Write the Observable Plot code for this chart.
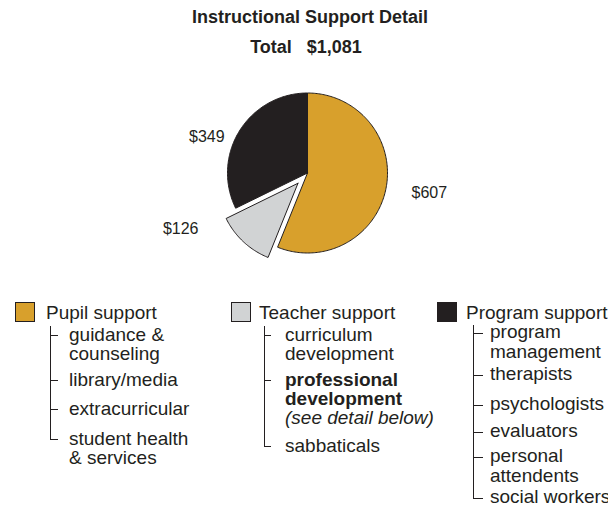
<!DOCTYPE html>
<html><head><meta charset="utf-8">
<script src="https://cdn.jsdelivr.net/npm/d3@7"></script>
<script src="https://cdn.jsdelivr.net/npm/@observablehq/plot@0.6"></script>
<style>
body{margin:0;background:#fff;}
#wrap{position:relative;width:608px;height:516px;overflow:hidden;font-family:"Liberation Sans",Arial,sans-serif;color:#231f20;}
.t{position:absolute;width:608px;text-align:center;font-weight:bold;font-size:18px;line-height:18px;white-space:pre;}
#chart{position:absolute;left:0;top:62px;}
.sw{position:absolute;width:20px;height:20px;border:1px solid #231f20;box-sizing:border-box;}
.hd{position:absolute;font-size:19px;line-height:19px;white-space:nowrap;}
.col{position:absolute;}
.item{position:relative;font-size:19px;white-space:nowrap;}
.vl{position:absolute;width:1px;background:#231f20;}
.tk{position:absolute;height:1px;background:#231f20;}
</style></head>
<body><div id="wrap">
<div class="t" id="title" style="left:6px;top:8px;"></div>
<div class="t" id="total" style="left:2px;top:38px;"></div>
<div id="chart"></div>
<div id="legend"></div>
</div>
<script>
const title = "Instructional Support Detail";
const totalLabel = "Total   $1,081";
const categories = ["Pupil support", "Teacher support", "Program support"];
const values = [607, 126, 349];
const valueLabels = ["$607", "$126", "$349"];
const colors = ["#d8a02c", "#d1d3d4", "#231f20"];
const exploded = ["Teacher support"];
const subItems = [
  [["guidance &", "counseling"], ["library/media"], ["extracurricular"], ["student health", "& services"]],
  [["curriculum", "development"], ["professional", "development", "(see detail below)"], ["sabbaticals"]],
  [["program", "management"], ["therapists"], ["psychologists"], ["evaluators"], ["personal", "attendents"], ["social workers"]]
];
// style of lines in highlighted item: column 1, item 1
const highlight = {col: 1, item: 1, styles: ["bold", "bold", "italic"]};

document.getElementById("title").textContent = title;
document.getElementById("total").textContent = totalLabel;

// pie geometry
const R = 80, explode = 14;
const arcs = d3.pie().sort(null)(values);
const step = Math.PI / 180;
const slicePts = [];
const labelPts = [];
arcs.forEach((a, i) => {
  const name = categories[i];
  const mid = (a.startAngle + a.endAngle) / 2;
  const off = exploded.includes(name) ? explode : 0;
  const ox = off * Math.sin(mid), oy = off * Math.cos(mid);
  slicePts.push({name, x: ox, y: oy});
  const n = Math.max(2, Math.ceil((a.endAngle - a.startAngle) / step));
  for (let k = 0; k <= n; k++) {
    const t = a.startAngle + (a.endAngle - a.startAngle) * k / n;
    slicePts.push({name, x: ox + R * Math.sin(t), y: oy + R * Math.cos(t)});
  }
  slicePts.push({name, x: ox, y: oy});
  labelPts.push({name, label: valueLabels[i], x: (R + off) * Math.sin(mid), y: (R + off) * Math.cos(mid)});
});
const labelStyle = {
  "Pupil support": {dx: 25.5, dy: 5, textAnchor: "start"},
  "Teacher support": {dx: -45, dy: -13, textAnchor: "end"},
  "Program support": {dx: -15, dy: 6, textAnchor: "end"}
};

const chart = Plot.plot({
  width: 608, height: 220, margin: 0,
  x: {domain: [-307, 301], axis: null},
  y: {domain: [-109.5, 110.5], axis: null},
  color: {domain: categories, range: colors},
  style: {fontFamily: "Liberation Sans, Arial, sans-serif", background: "transparent", color: "#231f20"},
  marks: [
    Plot.line(slicePts, {x: "x", y: "y", z: "name", fill: "name", stroke: "#231f20", strokeWidth: 1, strokeLinejoin: "miter"}),
    ...categories.map(c => Plot.text(labelPts.filter(d => d.name === c), {
      x: "x", y: "y", text: "label", fontSize: 16, fill: "#231f20", ...labelStyle[c]
    }))
  ]
});
document.getElementById("chart").appendChild(chart);

// legend layout
const colLayout = [
  {swX: 15, textX: 46, lineX: 50, tickEnd: 58, itemX: 69, top: 325, lineTop: 326, lh: 19, gaps: [7, 10, 11]},
  {swX: 231, textX: 259, lineX: 264, tickEnd: 271, itemX: 285, top: 325, lineTop: 326, lh: 19, gaps: [7, 9]},
  {swX: 437, textX: 466, lineX: 473, tickEnd: 483, itemX: 490, top: 322.4, lineTop: 325, lh: 20, gaps: [2, 10, 7, 5, 1]}
];
const legend = document.getElementById("legend");
categories.forEach((c, ci) => {
  const L = colLayout[ci];
  const sw = document.createElement("div");
  sw.className = "sw"; sw.style.left = L.swX + "px"; sw.style.top = "302px"; sw.style.background = colors[ci];
  legend.appendChild(sw);
  const hd = document.createElement("div");
  hd.className = "hd"; hd.style.left = L.textX + "px"; hd.style.top = "303px"; hd.textContent = c;
  legend.appendChild(hd);
  const col = document.createElement("div");
  col.className = "col"; col.style.left = L.itemX + "px"; col.style.top = L.top + "px";
  legend.appendChild(col);
  const tickYs = [];
  subItems[ci].forEach((lines, ii) => {
    const it = document.createElement("div");
    it.className = "item";
    it.style.lineHeight = L.lh + "px";
    it.style.marginTop = (ii === 0 ? 0 : L.gaps[ii - 1]) + "px";
    lines.forEach((ln, li) => {
      const d = document.createElement("div");
      d.textContent = ln;
      if (highlight.col === ci && highlight.item === ii) {
        const s = highlight.styles[li];
        if (s === "bold") d.style.fontWeight = "bold";
        if (s === "italic") d.style.fontStyle = "italic";
      }
      it.appendChild(d);
    });
    col.appendChild(it);
    tickYs.push(Math.round(L.top + it.offsetTop + L.lh / 2 + 0.5));
  });
  tickYs.forEach(ty => {
    const tk = document.createElement("div");
    tk.className = "tk"; tk.style.left = L.lineX + "px"; tk.style.width = (L.tickEnd - L.lineX) + "px"; tk.style.top = ty + "px";
    legend.appendChild(tk);
  });
  const vl = document.createElement("div");
  vl.className = "vl"; vl.style.left = L.lineX + "px"; vl.style.top = L.lineTop + "px";
  vl.style.height = (tickYs[tickYs.length - 1] - L.lineTop + 1) + "px";
  legend.appendChild(vl);
});
</script>
</body></html>
